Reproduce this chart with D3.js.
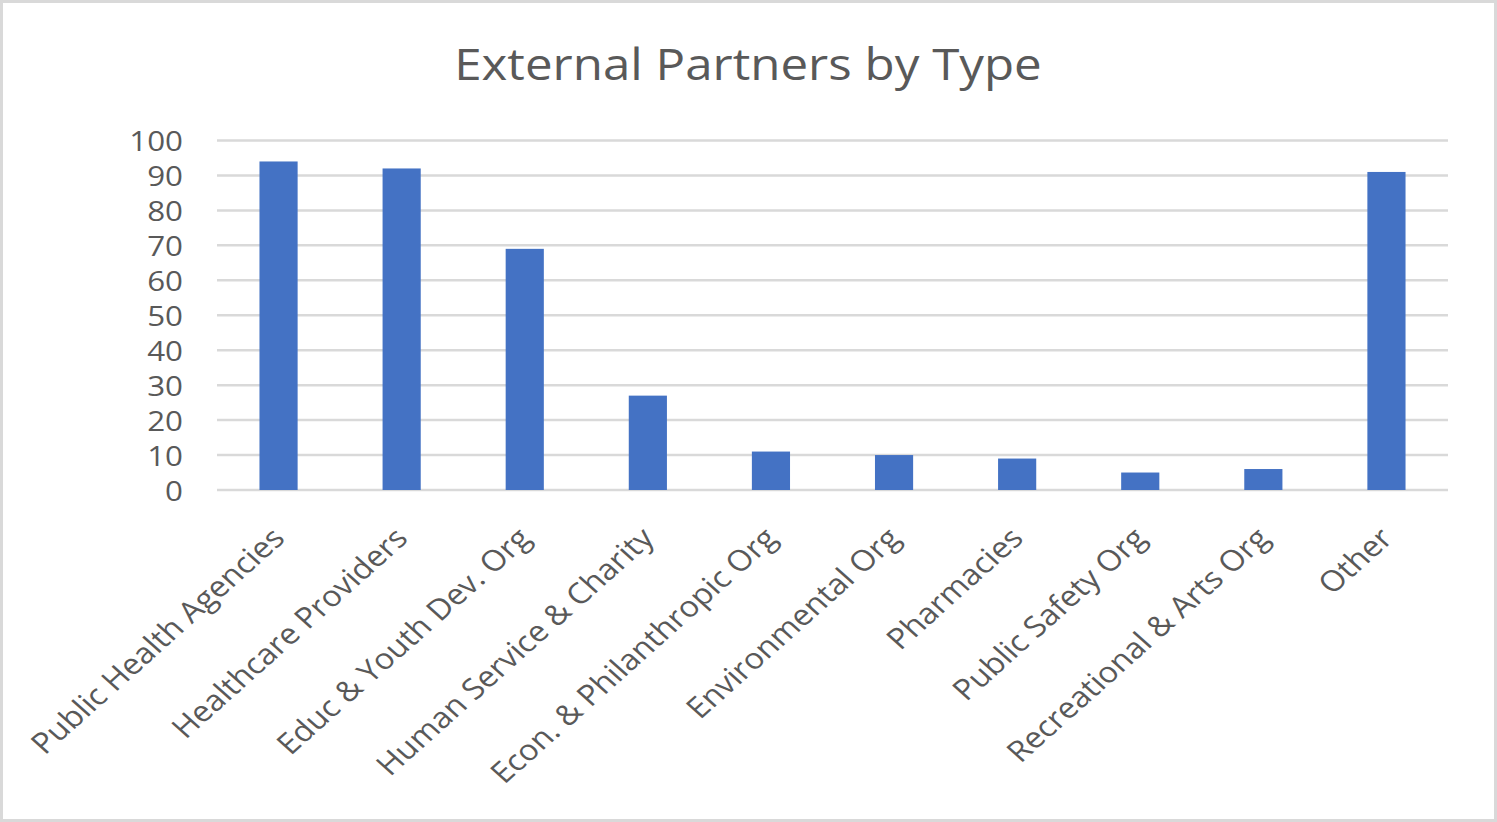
<!DOCTYPE html>
<html>
<head>
<meta charset="utf-8">
<script src="https://cdn.jsdelivr.net/npm/d3@7/dist/d3.min.js"></script>
<style>
html,body{margin:0;padding:0;background:#fff;}
svg{display:block;}
text{font-family:"Open Sans",sans-serif;fill:#595959;}
</style>
</head>
<body>
<svg id="chart" width="1497" height="822"></svg>
<script>
const title = "External Partners by Type";
const categories = ["Public Health Agencies","Healthcare Providers","Educ & Youth Dev. Org","Human Service & Charity","Econ. & Philanthropic Org","Environmental Org","Pharmacies","Public Safety Org","Recreational & Arts Org","Other"];
const values = [94, 92, 69, 27, 11, 10, 9, 5, 6, 91];
const yTicks = [0,10,20,30,40,50,60,70,80,90,100];

(function(){
const W = 1497, H = 822;
const sx = 1.12; // horizontal stretch of the original image
const svg = d3.select("#chart");

svg.append("rect").attr("x",1.5).attr("y",1.5).attr("width",W-3).attr("height",H-3)
  .attr("fill","#fff").attr("stroke","#d9d9d9").attr("stroke-width",3);

const g = svg.append("g").attr("transform",`scale(${sx},1)`);

const pLeft = 217/sx, pRight = 1448/sx, pTop = 140.5, pBottom = 490;

const x = d3.scaleBand().domain(categories).range([pLeft,pRight]).paddingInner(0.69).paddingOuter(0.345);
const y = d3.scaleLinear().domain([0,100]).range([pBottom,pTop]);

// gridlines
g.append("g").selectAll("line").data(yTicks).join("line")
  .attr("x1",pLeft).attr("x2",pRight)
  .attr("y1",d=>y(d)).attr("y2",d=>y(d))
  .attr("stroke","#d9d9d9").attr("stroke-width",2.5);

// y axis labels
const yAxis = d3.axisLeft(y).tickValues(yTicks).tickSize(0).tickPadding(0);
const ya = g.append("g").attr("transform",`translate(${183/sx},0)`).call(yAxis);
ya.select(".domain").remove();
ya.selectAll("text").style("font-family","'Open Sans',sans-serif").style("font-size","28px").attr("fill","#595959").attr("dy","0.36em");

// bars
g.append("g").selectAll("rect").data(values).join("rect")
  .attr("x",(d,i)=>x(categories[i]))
  .attr("width",x.bandwidth())
  .attr("y",d=>y(d))
  .attr("height",d=>pBottom-y(d))
  .attr("fill","#4472c4");

// x axis labels
const xAxis = d3.axisBottom(x).tickSize(0).tickPadding(0);
const xa = g.append("g").attr("transform",`translate(0,${pBottom})`).call(xAxis);
xa.select(".domain").remove();
xa.selectAll("text")
  .style("font-family","'Open Sans',sans-serif").style("font-size","29px").attr("fill","#595959")
  .attr("text-anchor","end")
  .attr("dy",null).attr("y",null)
  .attr("transform","translate(7,50) rotate(-45)");

// title
g.append("text").attr("x",748/sx).attr("y",80).attr("text-anchor","middle")
  .style("font-size","44px").attr("fill","#595959").text(title);
})();
</script>
</body>
</html>
